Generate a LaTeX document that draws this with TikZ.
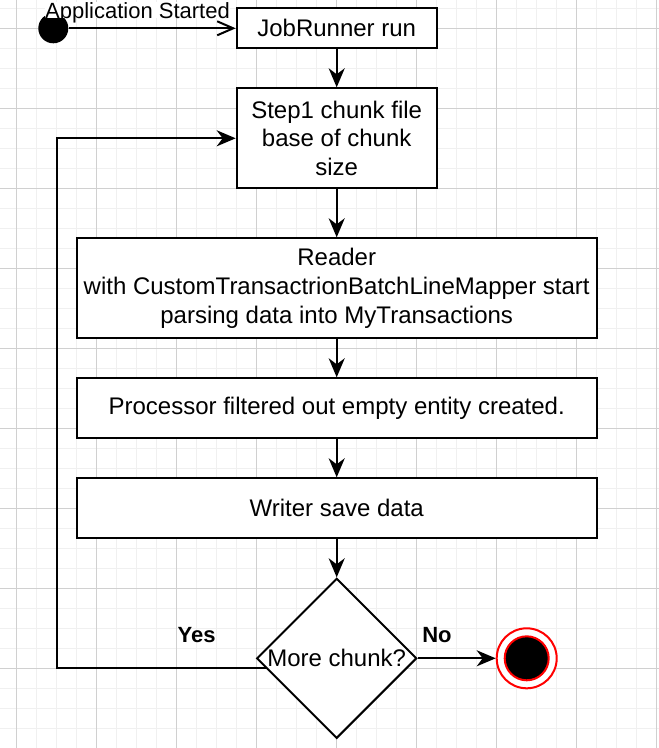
\documentclass[tikz,border=0pt]{standalone}
\usepackage{fontspec}
\setmainfont{Liberation Sans}
\usetikzlibrary{arrows.meta,shapes.geometric}
\definecolor{gridminor}{HTML}{F0F0F0}
\definecolor{gridmajor}{HTML}{D0D0D0}
\definecolor{endred}{HTML}{FF0000}
\begin{document}
\begin{tikzpicture}[x=1pt,y=-1pt,
  boxstyle/.style={draw, line width=2pt, fill=white, align=center, inner sep=0pt,
    font=\fontsize{24}{28.8}\selectfont},
  flow/.style={line width=2pt, -{Stealth[length=19pt,width=16pt,inset=6pt]}},
  openflow/.style={line width=2pt, -{Straight Barb[length=16pt,width=14pt]}},
  edgelabel/.style={font=\bfseries\fontsize{22}{26.4}\selectfont, inner sep=0pt, anchor=base},
  gridmin/.style={gridminor, line width=1pt},
  gridmaj/.style={gridmajor, line width=1pt}]
\fill[white] (0,0) rectangle (659,748);
\useasboundingbox (0,0) rectangle (659,748);
% grid
\foreach \x in {16.7,36.7,...,656.7} \draw[gridmin] (\x,0) -- (\x,748);
\foreach \y in {8.3,28.3,...,738.3} \draw[gridmin] (0,\y) -- (659,\y);
\foreach \x in {16.7,96.7,...,656.7} \draw[gridmaj] (\x,0) -- (\x,748);
\foreach \y in {28.3,108.3,...,668.3} \draw[gridmaj] (0,\y) -- (659,\y);

% start
\node (start) [circle, fill=black, minimum size=30pt, inner sep=0pt] at (53.3,28.3) {};
\node (startlabel) [fill=white, inner sep=0pt, text depth=0pt, anchor=base,
  font=\fontsize{22}{26.4}\selectfont] at (137.5,18.3) {Application Started};

% boxes
\node (job) [boxstyle, minimum width=200pt, minimum height=40pt] at (336.7,28.3) {JobRunner run};
\node (step) [boxstyle, minimum width=200pt, minimum height=100pt] at (336.7,138.3)
  {Step1 chunk file\\base of chunk\\size};
\node (reader) [boxstyle, minimum width=520pt, minimum height=100pt] at (336.7,288.3)
  {Reader\\with CustomTransactrionBatchLineMapper start\\parsing data into MyTransactions};
\node (proc) [boxstyle, minimum width=520pt, minimum height=60pt] at (336.7,408.3)
  {Processor filtered out empty entity created.};
\node (writer) [boxstyle, minimum width=520pt, minimum height=60pt] at (336.7,508.3)
  {Writer save data};
\node (dec) [diamond, draw, line width=2pt, fill=white, inner sep=0pt,
  minimum width=160pt, minimum height=160pt] at (336.7,658.3) {};
\node (dectext) [font=\fontsize{24}{28.8}\selectfont, inner sep=0pt] at (dec.center) {More chunk?};

% end
\node (endo) [circle, draw=endred, line width=2pt, fill=white, minimum size=60pt, inner sep=0pt] at (526.7,658.3) {};
\node (endi) [circle, draw=endred, line width=2pt, fill=black, minimum size=44pt, inner sep=0pt] at (endo.center) {};

% connectors
\draw[openflow] (start) -- (job);
\draw[flow] (job) -- (step);
\draw[flow] (step) -- (reader);
\draw[flow] (reader) -- (proc);
\draw[flow] (proc) -- (writer);
\draw[flow] (writer) -- (dec);
\draw[flow] (dec.east) -- (endo.west);
\coordinate (loopstart) at (266.7,668.3);
\coordinate (loopcorner) at (56.7,668.3);
\draw[flow] (loopstart) -- (loopcorner) |- (step.west);

% labels
\node (yes) [edgelabel] at (196.7,642.3) {Yes};
\node (no) [edgelabel] at (437,642.3) {No};
\end{tikzpicture}
\end{document}
